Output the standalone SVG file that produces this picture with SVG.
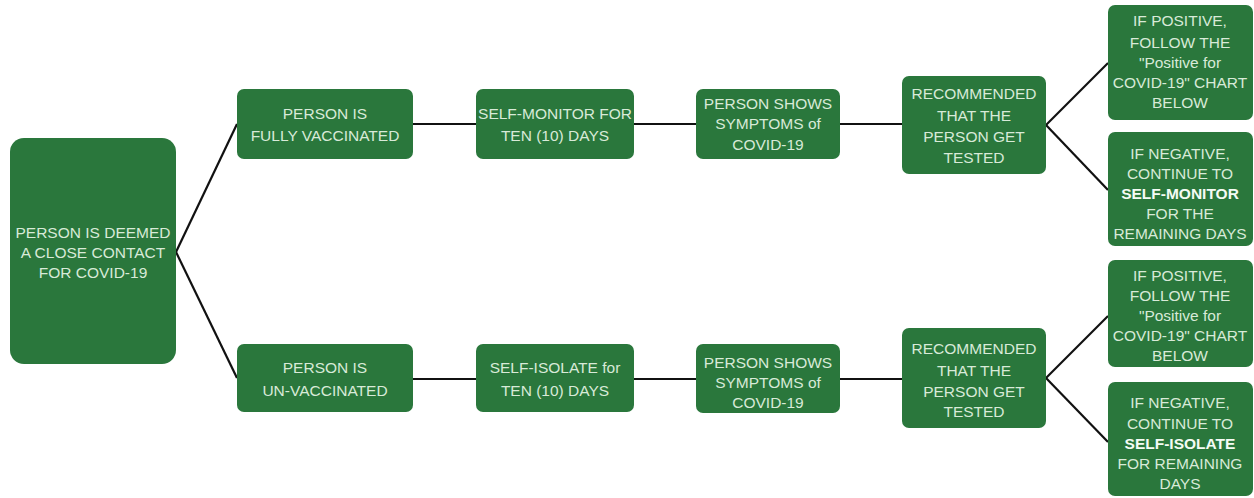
<svg xmlns="http://www.w3.org/2000/svg" width="1254" height="498" viewBox="0 0 1254 498">
<style>
.n{fill:#2a773c}
.t{font-family:"Liberation Sans",Arial,sans-serif;font-size:15.5px;fill:#d8ead8;text-anchor:middle;dominant-baseline:central}
.b{font-weight:bold;fill:#f4fbf4}
.c{stroke:#111;stroke-width:2.2;fill:none}
</style>
<rect width="1254" height="498" fill="#ffffff"/>
<g id="connectors">
<line class="c" x1="176" y1="252" x2="237" y2="124"/>
<line class="c" x1="176" y1="252" x2="237" y2="378"/>
<line class="c" x1="413" y1="124" x2="476" y2="124"/>
<line class="c" x1="634" y1="124" x2="696" y2="124"/>
<line class="c" x1="840" y1="124" x2="902" y2="124"/>
<line class="c" x1="1046" y1="125" x2="1108" y2="63"/>
<line class="c" x1="1046" y1="125" x2="1108" y2="190"/>
<line class="c" x1="413" y1="379" x2="476" y2="379"/>
<line class="c" x1="634" y1="379" x2="696" y2="379"/>
<line class="c" x1="840" y1="379" x2="902" y2="379"/>
<line class="c" x1="1046" y1="378" x2="1108" y2="316"/>
<line class="c" x1="1046" y1="378" x2="1108" y2="442"/>
</g>
<g id="close-contact">
<rect class="n" x="10" y="138" width="166" height="226" rx="14"/>
<text class="t" x="93" y="232">PERSON IS DEEMED</text>
<text class="t" x="93" y="252">A CLOSE CONTACT</text>
<text class="t" x="93" y="272">FOR COVID-19</text>
</g>
<g id="vaccinated">
<rect class="n" x="237" y="89" width="176" height="70" rx="7"/>
<text class="t" x="325" y="113">PERSON IS</text>
<text class="t" x="325" y="135">FULLY VACCINATED</text>
</g>
<g id="self-monitor">
<rect class="n" x="476" y="89" width="158" height="70" rx="7"/>
<text class="t" x="555" y="113">SELF-MONITOR FOR</text>
<text class="t" x="555" y="135">TEN (10) DAYS</text>
</g>
<g id="symptoms-top">
<rect class="n" x="696" y="89" width="144" height="70" rx="7"/>
<text class="t" x="768" y="103">PERSON SHOWS</text>
<text class="t" x="768" y="123">SYMPTOMS of</text>
<text class="t" x="768" y="144">COVID-19</text>
</g>
<g id="tested-top">
<rect class="n" x="902" y="76" width="144" height="98" rx="7"/>
<text class="t" x="974" y="93">RECOMMENDED</text>
<text class="t" x="974" y="115">THAT THE</text>
<text class="t" x="974" y="136">PERSON GET</text>
<text class="t" x="974" y="157">TESTED</text>
</g>
<g id="positive-top">
<rect class="n" x="1108" y="5" width="145" height="115" rx="7"/>
<text class="t" x="1180" y="20">IF POSITIVE,</text>
<text class="t" x="1180" y="42">FOLLOW THE</text>
<text class="t" x="1180" y="62">"Positive for</text>
<text class="t" x="1180" y="82">COVID-19" CHART</text>
<text class="t" x="1180" y="102">BELOW</text>
</g>
<g id="negative-top">
<rect class="n" x="1108" y="132" width="145" height="114" rx="7"/>
<text class="t" x="1180" y="153">IF NEGATIVE,</text>
<text class="t" x="1180" y="173">CONTINUE TO</text>
<text class="t b" x="1180" y="193">SELF-MONITOR</text>
<text class="t" x="1180" y="213">FOR THE</text>
<text class="t" x="1180" y="233">REMAINING DAYS</text>
</g>
<g id="unvaccinated">
<rect class="n" x="237" y="344" width="176" height="68" rx="7"/>
<text class="t" x="325" y="367">PERSON IS</text>
<text class="t" x="325" y="390">UN-VACCINATED</text>
</g>
<g id="self-isolate">
<rect class="n" x="476" y="344" width="158" height="68" rx="7"/>
<text class="t" x="555" y="367">SELF-ISOLATE for</text>
<text class="t" x="555" y="390">TEN (10) DAYS</text>
</g>
<g id="symptoms-bottom">
<rect class="n" x="696" y="344" width="144" height="69" rx="7"/>
<text class="t" x="768" y="362">PERSON SHOWS</text>
<text class="t" x="768" y="382">SYMPTOMS of</text>
<text class="t" x="768" y="402">COVID-19</text>
</g>
<g id="tested-bottom">
<rect class="n" x="902" y="328" width="144" height="100" rx="7"/>
<text class="t" x="974" y="348">RECOMMENDED</text>
<text class="t" x="974" y="370">THAT THE</text>
<text class="t" x="974" y="391">PERSON GET</text>
<text class="t" x="974" y="411">TESTED</text>
</g>
<g id="positive-bottom">
<rect class="n" x="1108" y="260" width="145" height="107" rx="7"/>
<text class="t" x="1180" y="275">IF POSITIVE,</text>
<text class="t" x="1180" y="295">FOLLOW THE</text>
<text class="t" x="1180" y="315">"Positive for</text>
<text class="t" x="1180" y="335">COVID-19" CHART</text>
<text class="t" x="1180" y="355">BELOW</text>
</g>
<g id="negative-bottom">
<rect class="n" x="1108" y="382" width="145" height="114" rx="7"/>
<text class="t" x="1180" y="402">IF NEGATIVE,</text>
<text class="t" x="1180" y="423">CONTINUE TO</text>
<text class="t b" x="1180" y="443">SELF-ISOLATE</text>
<text class="t" x="1180" y="463">FOR REMAINING</text>
<text class="t" x="1180" y="483">DAYS</text>
</g>
</svg>
